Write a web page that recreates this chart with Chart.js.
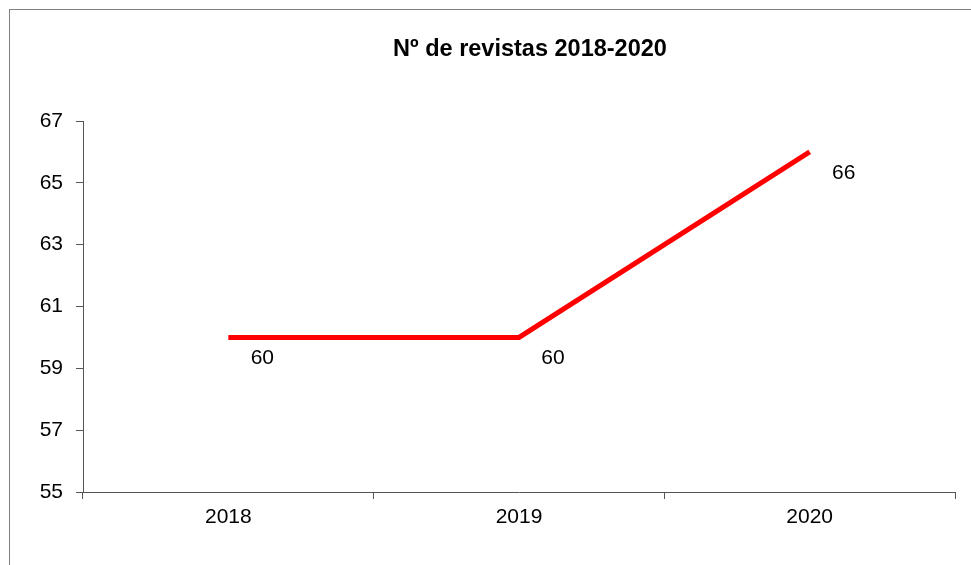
<!DOCTYPE html>
<html>
<head>
    <meta charset="UTF-8">
    <title>Nº de revistas 2018-2020</title>
    <script src="https://cdn.jsdelivr.net/npm/chart.js"></script>
    <style>
        html, body { margin: 0; padding: 0; background: #fff; overflow: hidden; }
        #wrap { position: relative; width: 971px; height: 565px; overflow: hidden; }
        #frame { position: absolute; left: 9px; top: 9px; width: 1100px; height: 700px; border: 1px solid #7f7f7f; }
        canvas { position: absolute; left: 0; top: 0; }
    </style>
</head>
<body>
<div id="wrap">
    <div id="frame"></div>
    <canvas id="chart" width="971" height="565"></canvas>
</div>
<script>
    // datos
    const years = ['2018', '2019', '2020'];
    const revistas = [60, 60, 66];
    const yTicks = [55, 57, 59, 61, 63, 65, 67];
    const titulo = 'Nº de revistas 2018-2020';

    const FONT = '"Liberation Sans", Arial, sans-serif';

    // titulo y etiquetas de datos
    const extras = {
        id: 'extras',
        afterDatasetsDraw(chart) {
            const ctx = chart.ctx;
            ctx.save();
            ctx.fillStyle = '#000';
            ctx.font = 'bold 23.5px ' + FONT;
            ctx.textAlign = 'center';
            ctx.textBaseline = 'middle';
            ctx.fillText(titulo, 530, 50);

            ctx.font = '21px ' + FONT;
            const meta = chart.getDatasetMeta(0);
            meta.data.forEach((pt, i) => {
                ctx.fillText(String(revistas[i]), pt.x + 34, pt.y + 21);
            });
            ctx.restore();
        }
    };

    new Chart(document.getElementById('chart'), {
        type: 'line',
        data: {
            labels: years,
            datasets: [{
                data: revistas,
                borderColor: '#ff0000',
                borderWidth: 5,
                pointRadius: 0,
                tension: 0,
                fill: false
            }]
        },
        options: {
            responsive: false,
            animation: false,
            layout: { padding: { left: 0, top: 121, right: 16, bottom: 0 } },
            plugins: {
                legend: { display: false },
                title: { display: false },
                tooltip: { enabled: false }
            },
            scales: {
                x: {
                    type: 'category',
                    offset: true,
                    grid: {
                        offset: true,
                        drawOnChartArea: false,
                        drawTicks: true,
                        tickLength: 7,
                        color: '#555'
                    },
                    border: { display: true, color: '#555', width: 1 },
                    ticks: {
                        color: '#000',
                        font: { family: FONT, size: 21 },
                        padding: 6,
                        maxRotation: 0
                    },
                    afterFit(scale) { scale.height = 73; }
                },
                y: {
                    min: 55,
                    max: 67,
                    afterBuildTicks(scale) {
                        scale.ticks = yTicks.map(v => ({ value: v }));
                    },
                    grid: {
                        drawOnChartArea: false,
                        drawTicks: true,
                        tickLength: 7,
                        color: '#555'
                    },
                    border: { display: true, color: '#555', width: 1 },
                    ticks: {
                        color: '#000',
                        font: { family: FONT, size: 21 },
                        padding: 13
                    },
                    afterFit(scale) { scale.width = 83; }
                }
            }
        },
        plugins: [extras]
    });
</script>
</body>
</html>
